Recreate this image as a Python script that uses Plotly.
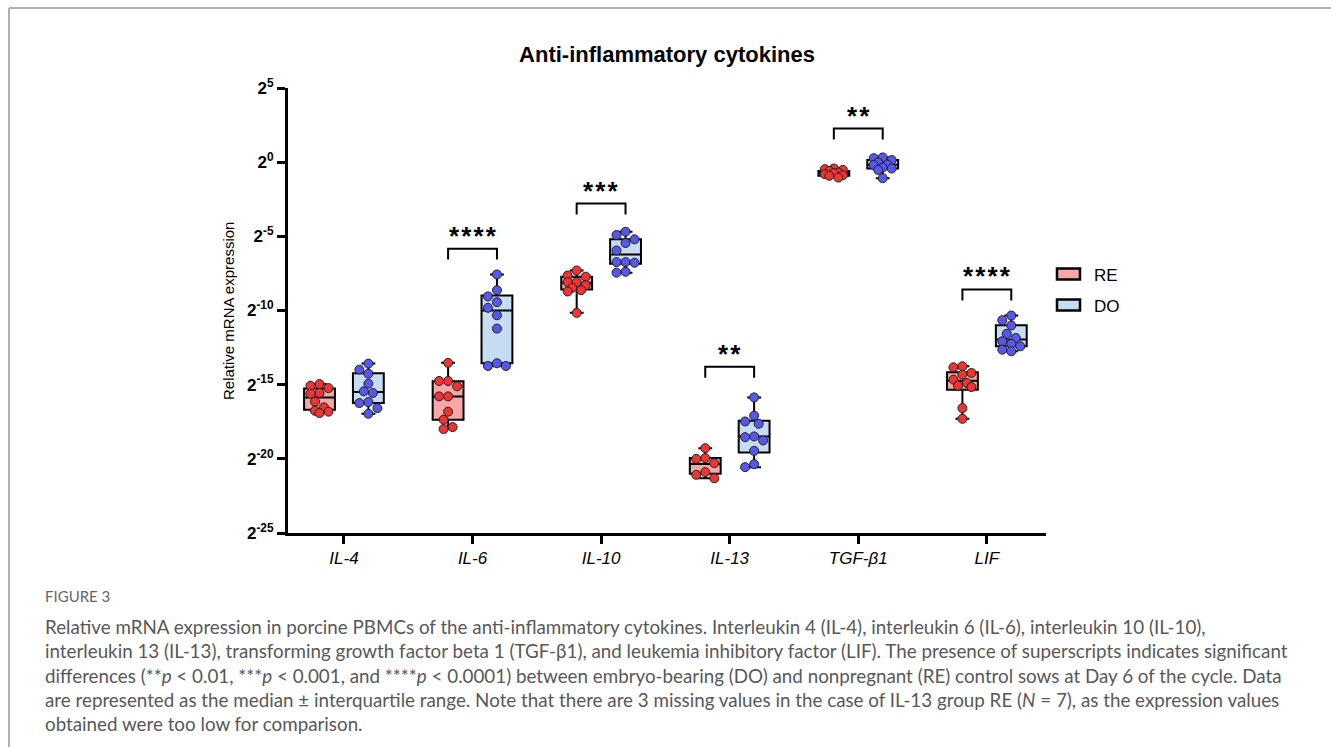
import math
import plotly.graph_objects as go

# ---------------- data (log2 exponents) ----------------
categories = ["IL-4", "IL-6", "IL-10", "IL-13", "TGF-β1", "LIF"]
groups = ["RE", "DO"]

re_points = [
    [-14.96, -15.07, -15.23, -15.56, -15.61, -16.15, -16.53, -16.76, -16.82, -16.91],
    [-13.53, -14.75, -14.75, -15.11, -15.79, -15.79, -16.82, -17.36, -17.86, -17.99],
    [-7.30, -7.64, -7.72, -8.09, -8.09, -8.29, -8.47, -8.63, -8.72, -10.16],
    [-19.28, -19.95, -20.00, -20.29, -20.90, -21.08, -21.31],
    [-0.43, -0.47, -0.52, -0.59, -0.70, -0.74, -0.81, -0.88, -0.92, -1.04],
    [-13.76, -13.83, -14.21, -14.32, -14.66, -14.89, -15.07, -15.16, -16.58, -17.30],
]
do_points = [
    [-13.58, -13.99, -14.26, -14.93, -15.45, -15.56, -16.17, -16.24, -16.58, -16.96],
    [-7.57, -8.63, -9.05, -9.44, -9.82, -10.32, -11.22, -13.56, -13.74, -13.74],
    [-4.69, -4.91, -5.20, -5.45, -5.95, -6.74, -6.74, -6.78, -7.39, -7.45],
    [-15.86, -17.09, -17.48, -17.64, -18.49, -18.54, -18.76, -19.46, -20.36, -20.56],
    [0.32, 0.27, 0.14, -0.02, -0.16, -0.20, -0.36, -0.43, -0.52, -1.08],
    [-10.34, -10.65, -11.01, -11.57, -11.85, -12.07, -12.25, -12.41, -12.64, -12.75],
]

# box statistics (log2) : min, q1, median, q3, max
re_min = [-16.91, -17.99, -10.16, -21.31, -1.04, -17.30]
re_q1 = [-16.69, -17.36, -8.58, -21.01, -0.92, -15.34]
re_med = [-15.86, -15.79, -8.13, -20.34, -0.74, -14.73]
re_q3 = [-15.25, -14.77, -7.72, -19.95, -0.59, -14.17]
re_max = [-14.96, -13.53, -7.30, -19.28, -0.43, -13.76]

do_min = [-16.96, -13.74, -7.45, -20.56, -1.08, -12.75]
do_q1 = [-16.24, -13.56, -6.85, -19.57, -0.43, -12.41]
do_med = [-15.50, -10.00, -6.22, -18.49, -0.18, -11.96]
do_q3 = [-14.23, -8.99, -5.20, -17.43, 0.14, -10.99]
do_max = [-13.58, -7.57, -4.69, -15.86, 0.32, -10.34]

# significance brackets
sig_categories = [1, 2, 3, 4, 5]
sig_labels = ["****", "***", "**", "**", "****"]
sig_levels = [-5.83, -2.79, -13.80, 2.27, -8.58]

y_tick_exponents = [5, 0, -5, -10, -15, -20, -25]

# ---------------- styling ----------------
W, H = 1331, 747
L, R, T, B = 288, 1046, 88, 533
PX_PER_CAT = (R - L) / 5.895
PX_PER_EXP = (B - T) / 30.0
OFFSET = 0.19
BOX_W = 0.24
RE_FILL, DO_FILL = "#f8a6a6", "#c6dcf3"
RE_DOT, DO_DOT = "#ef3434", "#5757ee"
DOT = 9
MAX_SPREAD_PX = 13


def two(v):
    return [2.0 ** e for e in v]


def beeswarm(vals, diam_px):
    """deterministic swarm offsets (category units), kept within the box width"""
    order = sorted(range(len(vals)), key=lambda i: -vals[i])
    placed = []
    offs = [0.0] * len(vals)
    step = diam_px * 0.5
    cands = [0.0]
    k = 1
    while k * step <= MAX_SPREAD_PX + 0.01:
        cands += [-k * step, k * step]
        k += 1
    for i in order:
        yp = vals[i] * PX_PER_EXP
        best, best_d = 0.0, -1.0
        for c in cands:
            d = min([math.hypot(c - px, yp - py) for px, py in placed] or [1e9])
            if d >= diam_px * 0.98:
                best = c
                best_d = 1e9
                break
            if d > best_d + 0.5:
                best, best_d = c, d
        placed.append((best, yp))
        offs[i] = best / PX_PER_CAT
    return offs


fig = go.Figure()

for name, sign, fill, dot, pts, mn, q1, md, q3, mx in [
    ("RE", -1, RE_FILL, RE_DOT, re_points, re_min, re_q1, re_med, re_q3, re_max),
    ("DO", 1, DO_FILL, DO_DOT, do_points, do_min, do_q1, do_med, do_q3, do_max),
]:
    xs = [i + sign * OFFSET for i in range(len(categories))]
    fig.add_trace(go.Box(
        name=name, x=xs, q1=two(q1), median=two(md), q3=two(q3),
        lowerfence=two(mn), upperfence=two(mx),
        width=BOX_W, whiskerwidth=0.45, fillcolor=fill,
        line=dict(color="black", width=2), boxpoints=False,
        showlegend=False,
    ))
    px_all, py_all = [], []
    for i, vals in enumerate(pts):
        offs = beeswarm(vals, DOT)
        px_all += [xs[i] + o for o in offs]
        py_all += two(vals)
    fig.add_trace(go.Scatter(
        x=px_all, y=py_all, mode="markers", showlegend=False,
        marker=dict(size=DOT, color=dot, line=dict(color="#222", width=1)),
        hoverinfo="skip",
    ))

# brackets
leg_len = 0.74
for c, lab, lev in zip(sig_categories, sig_labels, sig_levels):
    x0, x1 = c - OFFSET, c + OFFSET
    fig.add_trace(go.Scatter(
        x=[x0, x0, x1, x1], y=two([lev - leg_len, lev, lev, lev - leg_len]),
        mode="lines", line=dict(color="black", width=2), showlegend=False, hoverinfo="skip",
    ))
    fig.add_annotation(x=c, y=math.log10(2.0 ** lev), text="<b>" + "\u200a".join(lab) + "</b>",
                       showarrow=False, yanchor="bottom", yshift=-4,
                       font=dict(family="Arial", size=26, color="black"))


# helpers for pixel placement of furniture outside the plot area
def xp(p):
    return (p - L) / (R - L)


def yp(p):
    return (B - p) / (B - T)


# custom legend (wide rectangles like the reference)
for name, fill, cy in [("RE", RE_FILL, 274), ("DO", DO_FILL, 305)]:
    fig.add_shape(type="rect", xref="paper", yref="paper",
                  x0=xp(1057), x1=xp(1080), y0=yp(cy - 5.5), y1=yp(cy + 5.5),
                  fillcolor=fill, line=dict(color="black", width=2.5))
    fig.add_annotation(xref="paper", yref="paper", x=xp(1092), y=yp(cy + 1), xanchor="left",
                       yanchor="middle", text=name, showarrow=False,
                       font=dict(family="Arial", size=17, color="black"))

# frame lines (grey border of the figure panel)
fig.add_shape(type="line", xref="paper", yref="paper", x0=xp(9), x1=xp(W), y0=yp(8), y1=yp(8),
              line=dict(color="#b0b0b0", width=2))
fig.add_shape(type="line", xref="paper", yref="paper", x0=xp(9), x1=xp(9), y0=yp(8), y1=yp(H + 5),
              line=dict(color="#b0b0b0", width=2))

# caption
cap_font = dict(family="Lato", size=18.8, color="#585858")
fig.add_annotation(xref="paper", yref="paper", x=xp(43), y=yp(596), xanchor="left", yanchor="middle",
                   text="FIGURE 3", showarrow=False, font=dict(family="Lato", size=15, color="#666666"))
caption_lines = [
    "Relative mRNA expression in porcine PBMCs of the anti-inflammatory cytokines. Interleukin 4 (IL-4), interleukin 6 (IL-6), interleukin 10 (IL-10),",
    "interleukin 13 (IL-13), transforming growth factor beta 1 (TGF-β1), and leukemia inhibitory factor (LIF). The presence of superscripts indicates significant",
    "differences (**<i>p</i> < 0.01, ***<i>p</i> < 0.001, and ****<i>p</i> < 0.0001) between embryo-bearing (DO) and nonpregnant (RE) control sows at Day 6 of the cycle. Data",
    "are represented as the median ± interquartile range. Note that there are 3 missing values in the case of IL-13 group RE (<i>N</i> = 7), as the expression values",
    "obtained were too low for comparison.",
]
caption_y = [626, 650, 675, 699, 723]
for t, yy in zip(caption_lines, caption_y):
    fig.add_annotation(xref="paper", yref="paper", x=xp(43), y=yp(yy), xanchor="left", yanchor="middle",
                       text=t, showarrow=False, font=cap_font)

# y-axis title
fig.add_annotation(xref="paper", yref="paper", x=xp(228), y=yp(311), textangle=-90,
                   xanchor="center", yanchor="middle",
                   text="Relative mRNA expression", showarrow=False,
                   font=dict(family="Arial", size=15, color="black"))

fig.update_layout(
    width=W, height=H,
    margin=dict(l=L, r=W - R, t=T, b=H - B, autoexpand=False),
    paper_bgcolor="white", plot_bgcolor="white",
    title=dict(text="<b>Anti-inflammatory cytokines</b>", x=(L + R) / 2 / W, xanchor="center",
               y=1 - 54 / H, yanchor="middle", font=dict(family="Arial", size=22, color="black")),
    boxmode="overlay",
    showlegend=False,
)

fig.update_xaxes(
    range=[-0.435, 5.46], tickmode="array", tickvals=list(range(len(categories))),
    ticktext=[f"<i>{c}</i>" for c in categories],
    showline=True, linecolor="black", linewidth=3, ticks="outside", ticklen=8, tickwidth=3,
    tickcolor="black", showgrid=False, zeroline=False,
    tickfont=dict(family="Arial", size=17, color="black"),
)
fig.update_yaxes(
    type="log", range=[-25 * math.log10(2), 5 * math.log10(2)],
    tickmode="array", tickvals=[2.0 ** e for e in y_tick_exponents],
    ticktext=[f"<b>2<sup>{e}</sup></b>" for e in y_tick_exponents],
    showline=True, linecolor="black", linewidth=3, ticks="outside", ticklen=8, tickwidth=3,
    tickcolor="black", showgrid=False, zeroline=False,
    tickfont=dict(family="Arial", size=17, color="black"),
)

fig.write_html("out.html")
